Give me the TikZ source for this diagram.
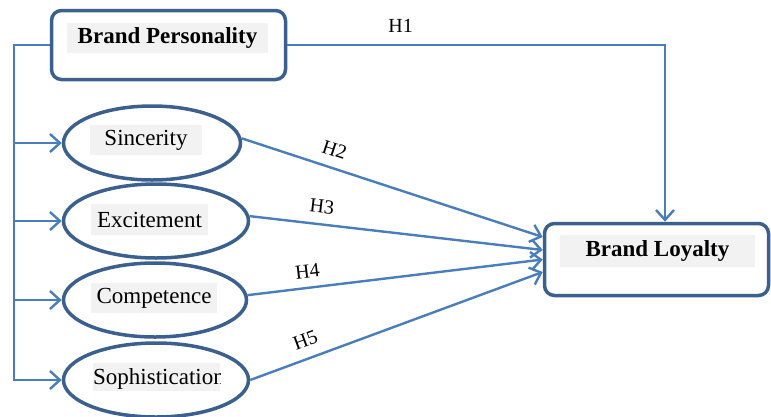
\documentclass[tikz,border=0pt]{standalone}
\usepackage{fontspec}
\setmainfont{Liberation Serif}
\usetikzlibrary{shapes.geometric,arrows.meta,calc}
\definecolor{bordc}{RGB}{60,96,142}
\definecolor{connc}{RGB}{74,126,187}
\definecolor{txtbg}{RGB}{242,242,242}
\begin{document}
\begin{tikzpicture}[x=1pt,y=-1pt,
  box/.style={draw=bordc, line width=3.5pt, rounded corners=10pt},
  oval/.style={ellipse, draw=bordc, line width=3.5pt, inner sep=0pt},
  tag/.style={fill=txtbg, inner sep=0pt, font=\fontsize{23}{27}\selectfont},
  conn/.style={draw=connc, line width=2.4pt, -{Straight Barb[length=10pt,width=18pt]}},
  hlab/.style={font=\fontsize{20}{23}\selectfont, inner sep=0pt, text=black}]
\useasboundingbox (0,0) rectangle (771,416);

% boxes
\node[box, minimum width=234pt, minimum height=69pt] (bp) at (168.5,45) {};
\node[tag, minimum width=201pt, minimum height=30pt] (bptxt) at (167.5,38) {\bfseries Brand Personality};
\node[box, minimum width=224pt, minimum height=72pt] (bl) at (656.5,259.5) {};
\node[tag, minimum width=195pt, minimum height=32pt] (bltxt) at (657.5,251) {\bfseries Brand Loyalty};

% ellipses
\node[oval, minimum width=177pt, minimum height=74pt] (sinc) at (152,143) {};
\node[oval, minimum width=185pt, minimum height=74pt] (exc) at (156,221) {};
\node[oval, minimum width=183pt, minimum height=74pt] (comp) at (155,300) {};
\node[oval, minimum width=185pt, minimum height=74pt] (soph) at (156,380) {};

\node[tag, minimum width=112pt, minimum height=30pt] (sinctxt) at (146,140) {Sincerity};
\node[tag, minimum width=117pt, minimum height=31pt] (exctxt) at (149.5,219.5) {Excitement};
\node[tag, minimum width=126pt, minimum height=30pt] (comptxt) at (154,298) {Competence};
\begin{scope}
  \clip (93,363) rectangle (220,391);
  \node[tag, anchor=west, minimum height=28pt, text depth=0pt] (sophtxt) at (93,377) {Sophistication};
\end{scope}

% trunk on the left
\coordinate (tt) at (14,45);
\draw[conn] (bp.west) -- (tt) |- (soph.west);
\draw[conn] (sinc.west -| tt) -- (sinc.west);
\draw[conn] (exc.west -| tt) -- (exc.west);
\draw[conn] (comp.west -| tt) -- (comp.west);

% H1
\coordinate (h1) at (665,45);
\draw[conn] (bp.east) -- node[hlab, pos=0.3, above=11.5pt] (l1) {H1} (h1) -- (h1 |- bl.north);

% H2..H5
\draw[conn] (sinc.3) -- node[hlab, pos=0.29, sloped, above=10pt] (l2) {H2} ($(bl.west)+(0,-22.5)$);
\draw[conn] (exc.3) -- node[hlab, pos=0.24, sloped, above=10pt] (l3) {H3} ($(bl.west)+(0,-9.5)$);
\draw[conn] (comp.3) -- node[hlab, pos=0.21, sloped, above=9pt] (l4) {H4} ($(bl.west)+(0,0)$);
\draw[conn] (soph.0) -- node[hlab, pos=0.21, sloped, above=10.5pt] (l5) {H5} ($(bl.west)+(0,12.5)$);
\end{tikzpicture}
\end{document}
